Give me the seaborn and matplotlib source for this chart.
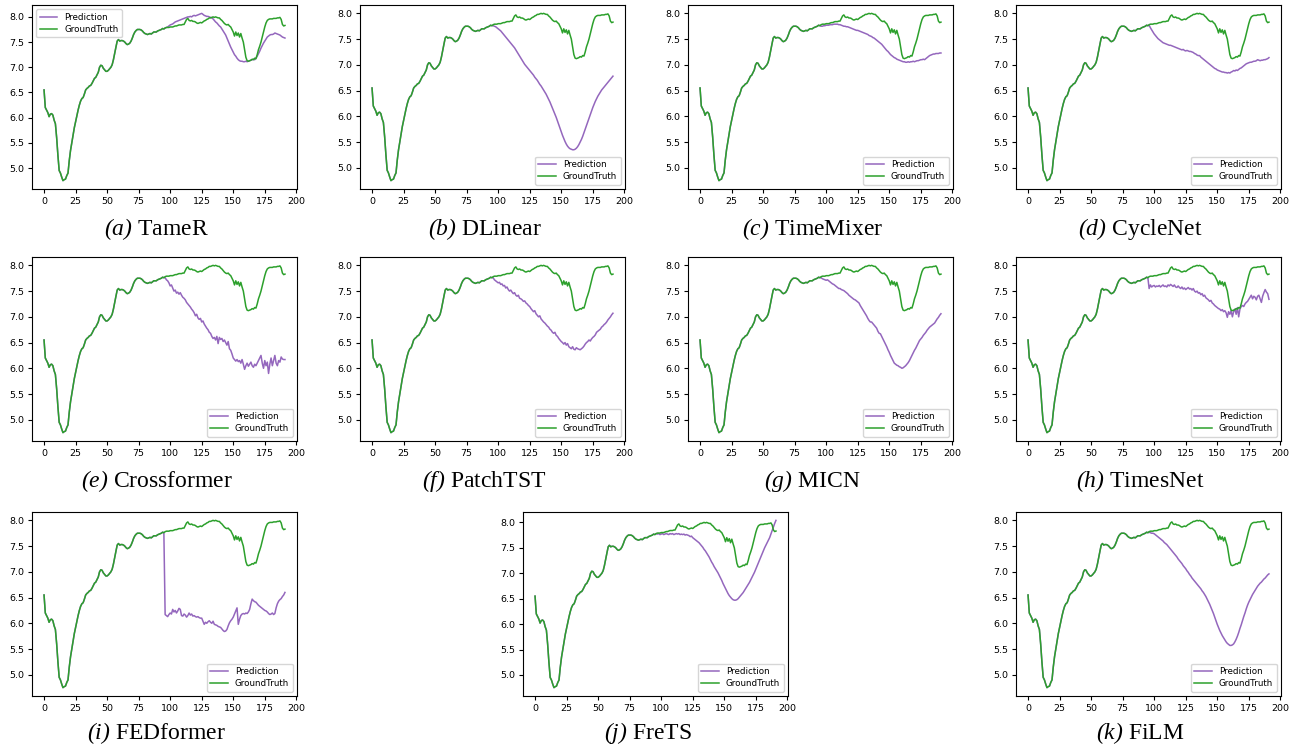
import numpy as np
import pandas as pd
import matplotlib
matplotlib.use("Agg")
import matplotlib.pyplot as plt
import seaborn as sns

# ---------------- data ----------------
ground_truth = [
    6.55, 6.2, 6.15, 6.1, 6.02, 6.07, 6.08, 6.05, 5.95, 5.88, 5.6, 5.25, 4.95, 4.9, 4.82, 4.75,
    4.77, 4.78, 4.85, 4.9, 5.15, 5.35, 5.5, 5.65, 5.8, 5.92, 6.05, 6.15, 6.25, 6.33, 6.38, 6.4,
    6.47, 6.55, 6.58, 6.6, 6.63, 6.64, 6.68, 6.73, 6.78, 6.8, 6.85, 6.9, 7.0, 7.04, 7.03, 6.98,
    6.95, 6.92, 6.92, 6.94, 6.97, 7.0, 7.05, 7.15, 7.28, 7.4, 7.52, 7.55, 7.52, 7.53, 7.53, 7.52,
    7.5, 7.47, 7.45, 7.46, 7.48, 7.52, 7.58, 7.65, 7.7, 7.73, 7.75, 7.75, 7.75, 7.74, 7.72, 7.69,
    7.67, 7.66, 7.65, 7.66, 7.67, 7.66, 7.68, 7.7, 7.7, 7.7, 7.72, 7.73, 7.74, 7.75, 7.77, 7.76,
    7.78, 7.79, 7.79, 7.79, 7.8, 7.8, 7.8, 7.81, 7.82, 7.82, 7.83, 7.84, 7.84, 7.84, 7.85, 7.85,
    7.9, 7.95, 7.97, 7.93, 7.92, 7.93, 7.91, 7.91, 7.9, 7.88, 7.87, 7.88, 7.89, 7.88, 7.9, 7.92,
    7.93, 7.95, 7.96, 7.98, 7.98, 7.99, 8.0, 7.99, 8.0, 7.99, 7.98, 7.98, 7.95, 7.93, 7.9, 7.87,
    7.85, 7.84, 7.85, 7.82, 7.8, 7.75, 7.7, 7.62, 7.7, 7.63, 7.68, 7.6, 7.67, 7.58, 7.5, 7.35,
    7.2, 7.13, 7.12, 7.13, 7.14, 7.16, 7.15, 7.18, 7.17, 7.25, 7.35, 7.42, 7.5, 7.6, 7.7, 7.8,
    7.88, 7.93, 7.95, 7.96, 7.96, 7.96, 7.97, 7.97, 7.97, 7.98, 7.98, 7.99, 7.95, 7.85, 7.82, 7.83,
]
input_len = 96

pred_tamer = [
    7.78, 7.79, 7.8, 7.82, 7.84, 7.85, 7.86, 7.88, 7.9, 7.91, 7.92, 7.93, 7.94, 7.95, 7.96, 7.97,
    7.98, 7.99, 8.0, 8.0, 8.01, 8.0, 8.02, 8.03, 8.02, 8.03, 8.04, 8.05, 8.06, 8.07, 8.05, 8.03,
    8.02, 8.01, 8.01, 8.0, 7.99, 7.98, 7.96, 7.93, 7.9, 7.88, 7.85, 7.82, 7.8, 7.76, 7.72, 7.68,
    7.64, 7.58, 7.52, 7.46, 7.4, 7.35, 7.3, 7.25, 7.22, 7.18, 7.15, 7.13, 7.12, 7.12, 7.11, 7.11,
    7.12, 7.11, 7.12, 7.13, 7.14, 7.15, 7.16, 7.15, 7.18, 7.22, 7.27, 7.32, 7.38, 7.43, 7.48, 7.52,
    7.56, 7.6, 7.62, 7.64, 7.65, 7.65, 7.66, 7.68, 7.67, 7.66, 7.65, 7.64, 7.62, 7.6, 7.59, 7.58,
]
pred_dlinear = [
    7.76, 7.75, 7.74, 7.72, 7.7, 7.68, 7.66, 7.63, 7.6, 7.57, 7.54, 7.51, 7.48, 7.45, 7.42, 7.39,
    7.36, 7.33, 7.29, 7.25, 7.21, 7.17, 7.13, 7.09, 7.05, 7.01, 6.98, 6.95, 6.92, 6.89, 6.86, 6.83,
    6.8, 6.76, 6.73, 6.7, 6.66, 6.62, 6.59, 6.55, 6.51, 6.47, 6.43, 6.38, 6.33, 6.28, 6.22, 6.16,
    6.1, 6.04, 5.98, 5.91, 5.84, 5.77, 5.7, 5.63, 5.57, 5.51, 5.46, 5.42, 5.39, 5.37, 5.36, 5.35,
    5.35, 5.36, 5.38, 5.41, 5.45, 5.5, 5.55, 5.61, 5.68, 5.75, 5.82, 5.89, 5.96, 6.03, 6.1, 6.17,
    6.23, 6.29, 6.34, 6.39, 6.43, 6.47, 6.51, 6.54, 6.57, 6.6, 6.63, 6.66, 6.69, 6.72, 6.75, 6.78,
]
pred_timemixer = [
    7.75, 7.75, 7.76, 7.76, 7.77, 7.77, 7.77, 7.78, 7.78, 7.78, 7.79, 7.79, 7.79, 7.79, 7.78, 7.78,
    7.77, 7.76, 7.75, 7.75, 7.74, 7.74, 7.73, 7.72, 7.71, 7.7, 7.69, 7.68, 7.67, 7.67, 7.66, 7.65,
    7.64, 7.63, 7.62, 7.61, 7.6, 7.59, 7.57, 7.56, 7.55, 7.53, 7.52, 7.5, 7.48, 7.46, 7.44, 7.42,
    7.4, 7.37, 7.34, 7.31, 7.28, 7.26, 7.23, 7.2, 7.18, 7.16, 7.14, 7.13, 7.11, 7.1, 7.09, 7.08,
    7.07, 7.06, 7.06, 7.05, 7.05, 7.06, 7.05, 7.06, 7.06, 7.07, 7.06, 7.07, 7.08, 7.08, 7.09, 7.1,
    7.1, 7.11, 7.1, 7.12, 7.14, 7.16, 7.18, 7.19, 7.2, 7.21, 7.21, 7.22, 7.22, 7.22, 7.23, 7.23,
]
pred_cyclenet = [
    7.77, 7.72, 7.68, 7.64, 7.6, 7.57, 7.54, 7.51, 7.49, 7.47, 7.45, 7.43, 7.42, 7.41, 7.4, 7.39,
    7.38, 7.38, 7.37, 7.36, 7.35, 7.34, 7.33, 7.32, 7.31, 7.3, 7.29, 7.3, 7.28, 7.27, 7.28, 7.27,
    7.26, 7.26, 7.25, 7.24, 7.22, 7.21, 7.19, 7.18, 7.18, 7.15, 7.13, 7.11, 7.09, 7.07, 7.05, 7.03,
    7.01, 6.99, 6.97, 6.95, 6.93, 6.92, 6.9, 6.89, 6.88, 6.87, 6.86, 6.86, 6.85, 6.85, 6.84, 6.85,
    6.84, 6.86, 6.87, 6.89, 6.88, 6.9, 6.89, 6.91, 6.93, 6.94, 6.96, 6.98, 7.0, 7.02, 7.03, 7.04,
    7.05, 7.05, 7.06, 7.07, 7.07, 7.08, 7.1, 7.09, 7.08, 7.09, 7.09, 7.1, 7.1, 7.11, 7.12, 7.14,
]
pred_crossformer = [
    7.76, 7.72, 7.7, 7.66, 7.6, 7.62, 7.56, 7.5, 7.52, 7.46, 7.48, 7.44, 7.47, 7.42, 7.38, 7.36,
    7.33, 7.28, 7.25, 7.22, 7.19, 7.15, 7.12, 7.08, 7.02, 7.05, 6.98, 6.95, 6.97, 6.9, 6.92, 6.86,
    6.82, 6.78, 6.75, 6.7, 6.68, 6.62, 6.58, 6.6, 6.55, 6.62, 6.48, 6.6, 6.56, 6.58, 6.52, 6.55,
    6.5, 6.45, 6.52, 6.38, 6.35, 6.28, 6.2, 6.17, 6.14, 6.17, 6.13, 6.15, 6.1, 6.17, 6.08, 5.98,
    6.05, 6.1, 6.04, 6.08, 6.12, 6.05, 6.02, 6.08, 6.05, 6.1, 6.15, 6.2, 6.25, 6.1, 6.0, 6.15,
    6.05, 6.12, 5.9, 6.08, 6.2, 6.05, 6.15, 6.25, 6.1, 6.05, 6.15, 6.12, 6.22, 6.18, 6.17, 6.17,
]
pred_patchtst = [
    7.76, 7.72, 7.7, 7.68, 7.66, 7.67, 7.63, 7.64, 7.6, 7.61, 7.56, 7.58, 7.53, 7.5, 7.52, 7.48,
    7.45, 7.47, 7.42, 7.4, 7.42, 7.36, 7.35, 7.33, 7.3, 7.31, 7.27, 7.25, 7.22, 7.2, 7.16, 7.13,
    7.1, 7.12, 7.06, 7.03, 7.0, 7.02, 6.96, 6.93, 6.9, 6.88, 6.85, 6.82, 6.8, 6.76, 6.74, 6.7,
    6.68, 6.7, 6.64, 6.62, 6.58, 6.55, 6.52, 6.5, 6.47, 6.5, 6.45, 6.48, 6.42, 6.4, 6.38, 6.42,
    6.37, 6.36, 6.4, 6.38, 6.37, 6.36, 6.38, 6.4, 6.43, 6.47, 6.5, 6.52, 6.55, 6.53, 6.57, 6.6,
    6.62, 6.65, 6.7, 6.72, 6.74, 6.76, 6.8, 6.82, 6.85, 6.87, 6.9, 6.94, 6.97, 7.0, 7.04, 7.07,
]
pred_micn = [
    7.76, 7.74, 7.73, 7.72, 7.71, 7.72, 7.7, 7.68, 7.66, 7.64, 7.63, 7.61, 7.59, 7.57, 7.55, 7.55,
    7.53, 7.52, 7.51, 7.49, 7.47, 7.45, 7.42, 7.4, 7.38, 7.36, 7.34, 7.33, 7.31, 7.29, 7.27, 7.22,
    7.18, 7.14, 7.1, 7.06, 7.02, 6.97, 6.93, 6.9, 6.9, 6.87, 6.84, 6.81, 6.78, 6.72, 6.68, 6.67,
    6.62, 6.57, 6.52, 6.47, 6.42, 6.36, 6.31, 6.25, 6.2, 6.15, 6.1, 6.08, 6.06, 6.05, 6.03, 6.02,
    6.0, 6.01, 6.03, 6.05, 6.08, 6.11, 6.15, 6.2, 6.25, 6.3, 6.35, 6.39, 6.44, 6.49, 6.54, 6.57,
    6.6, 6.64, 6.67, 6.7, 6.74, 6.77, 6.8, 6.82, 6.84, 6.86, 6.88, 6.92, 6.96, 6.99, 7.03, 7.06,
]
pred_timesnet = [
    7.55, 7.62, 7.58, 7.6, 7.61, 7.58, 7.6, 7.59, 7.61, 7.58, 7.6, 7.62, 7.59, 7.6, 7.58, 7.62,
    7.6, 7.63, 7.61, 7.59, 7.62, 7.58, 7.57, 7.6, 7.57, 7.55, 7.58, 7.54, 7.56, 7.53, 7.55, 7.57,
    7.54, 7.55, 7.52, 7.55, 7.5, 7.48, 7.5, 7.46, 7.47, 7.43, 7.45, 7.4, 7.42, 7.37, 7.35, 7.33,
    7.3, 7.32, 7.27, 7.25, 7.22, 7.2, 7.18, 7.16, 7.15, 7.12, 7.14, 7.1, 7.12, 7.08, 6.99, 7.1,
    7.05, 7.12, 7.0, 7.1, 7.15, 7.05, 7.18, 7.0, 7.15, 7.2, 7.22, 7.2, 7.25, 7.28, 7.3, 7.34,
    7.38, 7.42, 7.35, 7.4, 7.38, 7.33, 7.4, 7.42, 7.35, 7.28, 7.4, 7.47, 7.53, 7.48, 7.45, 7.34,
]
pred_fedformer = [
    6.17, 6.15, 6.13, 6.17, 6.2, 6.18, 6.27, 6.22, 6.25, 6.2, 6.24, 6.29, 6.27, 6.15, 6.14, 6.18,
    6.16, 6.12, 6.15, 6.2, 6.16, 6.18, 6.14, 6.15, 6.13, 6.12, 6.13, 6.11, 6.1, 6.1, 6.04, 5.98,
    6.02, 6.0, 6.03, 6.05, 6.02, 6.0, 6.04, 5.98, 5.97, 5.96, 5.94, 5.93, 5.92, 5.89, 5.86, 5.84,
    5.85, 5.88, 5.95, 6.01, 6.05, 6.08, 6.12, 6.18, 6.24, 6.3, 5.98, 6.08, 6.15, 6.18, 6.19, 6.18,
    6.2, 6.19, 6.22, 6.27, 6.38, 6.47, 6.44, 6.42, 6.41, 6.38, 6.35, 6.33, 6.31, 6.29, 6.27, 6.25,
    6.24, 6.22, 6.19, 6.17, 6.18, 6.2, 6.17, 6.19, 6.3, 6.38, 6.43, 6.46, 6.48, 6.52, 6.55, 6.6,
]
pred_frets = [
    7.78, 7.77, 7.78, 7.76, 7.77, 7.78, 7.76, 7.77, 7.78, 7.77, 7.76, 7.78, 7.77, 7.78, 7.76, 7.77,
    7.78, 7.77, 7.78, 7.76, 7.77, 7.76, 7.77, 7.75, 7.76, 7.75, 7.74, 7.72, 7.73, 7.7, 7.68, 7.66,
    7.64, 7.62, 7.6, 7.57, 7.54, 7.51, 7.47, 7.44, 7.4, 7.36, 7.32, 7.27, 7.22, 7.18, 7.13, 7.09,
    7.05, 7.01, 6.96, 6.91, 6.86, 6.8, 6.75, 6.7, 6.65, 6.6, 6.56, 6.53, 6.5, 6.48, 6.47, 6.47,
    6.48, 6.5, 6.53, 6.56, 6.59, 6.62, 6.66, 6.7, 6.74, 6.78, 6.82, 6.87, 6.92, 6.97, 7.02, 7.08,
    7.14, 7.2, 7.26, 7.32, 7.38, 7.44, 7.5, 7.55, 7.6, 7.65, 7.7, 7.77, 7.84, 7.91, 7.98, 8.04,
]
pred_film = [
    7.77, 7.76, 7.75, 7.75, 7.74, 7.72, 7.7, 7.68, 7.66, 7.64, 7.62, 7.6, 7.57, 7.55, 7.53, 7.5,
    7.47, 7.44, 7.41, 7.38, 7.35, 7.32, 7.29, 7.25, 7.22, 7.19, 7.16, 7.12, 7.09, 7.06, 7.02, 6.99,
    6.95, 6.92, 6.88, 6.85, 6.82, 6.79, 6.76, 6.73, 6.7, 6.67, 6.63, 6.6, 6.56, 6.52, 6.47, 6.42,
    6.37, 6.31, 6.25, 6.19, 6.12, 6.05, 5.98, 5.92, 5.86, 5.81, 5.76, 5.72, 5.68, 5.64, 5.61, 5.59,
    5.57, 5.57, 5.58, 5.6, 5.64, 5.69, 5.75, 5.82, 5.9, 5.97, 6.05, 6.13, 6.2, 6.28, 6.35, 6.41,
    6.46, 6.51, 6.56, 6.6, 6.64, 6.68, 6.72, 6.75, 6.78, 6.8, 6.83, 6.86, 6.88, 6.91, 6.94, 6.96,
]

panel_letters = ["a", "b", "c", "d", "e", "f", "g", "h", "i", "j", "k"]
model_names = ["TameR", "DLinear", "TimeMixer", "CycleNet", "Crossformer", "PatchTST",
               "MICN", "TimesNet", "FEDformer", "FreTS", "FiLM"]
predictions = [pred_tamer, pred_dlinear, pred_timemixer, pred_cyclenet, pred_crossformer,
               pred_patchtst, pred_micn, pred_timesnet, pred_fedformer, pred_frets, pred_film]
x_ticks = [0, 25, 50, 75, 100, 125, 150, 175, 200]
y_ticks = [5.0, 5.5, 6.0, 6.5, 7.0, 7.5, 8.0]

# ---------------- layout ----------------
W, H = 1297, 750
fig = plt.figure(figsize=(W / 100, H / 100), dpi=100)
plt.rcParams["mathtext.fontset"] = "custom"
plt.rcParams["mathtext.it"] = "Liberation Serif:italic"
plt.rcParams["mathtext.rm"] = "Liberation Serif:italic"

ax_w, ax_h = 265, 184
# (left, top) in pixels for each panel
positions = [(32, 5), (360, 5), (688, 5), (1016, 5),
             (32, 257), (360, 257), (688, 257), (1016, 257),
             (32, 512), (523, 512), (1016, 512)]
caption_y = [229, 229, 229, 229, 481, 481, 481, 481, 733, 733, 733]

PURPLE = "#9467bd"
GREEN = "#2ca02c"

steps = np.arange(len(ground_truth))
for i, (name, pred) in enumerate(zip(model_names, predictions)):
    left, top = positions[i]
    ax = fig.add_axes([left / W, 1 - (top + ax_h) / H, ax_w / W, ax_h / H])
    full_pred = list(ground_truth[:input_len]) + list(pred)
    df = pd.DataFrame({"step": steps, "Prediction": full_pred, "GroundTruth": ground_truth})
    sns.lineplot(data=df, x="step", y="Prediction", ax=ax, color=PURPLE, lw=1.1,
                 label="Prediction")
    sns.lineplot(data=df, x="step", y="GroundTruth", ax=ax, color=GREEN, lw=1.1,
                 label="GroundTruth")
    ax.set_xlabel("")
    ax.set_ylabel("")
    ax.set_xticks(x_ticks)
    ax.set_yticks(y_ticks)
    ax.set_yticklabels([f"{v:.1f}" for v in y_ticks])
    ax.tick_params(labelsize=6.8, length=3, width=0.8, pad=2.5)
    for s in ax.spines.values():
        s.set_linewidth(0.8)
    ax.legend(loc="upper left" if i == 0 else "lower right", fontsize=6.3,
              handlelength=2.0, borderpad=0.4, labelspacing=0.35)
    cx = (left + ax_w / 2 - 8) / W
    fig.text(cx, 1 - caption_y[i] / H, r"$(" + panel_letters[i] + r")$ " + name,
             ha="center", va="center", fontsize=17, family="Liberation Serif")

fig.savefig("out.png", dpi=100)
